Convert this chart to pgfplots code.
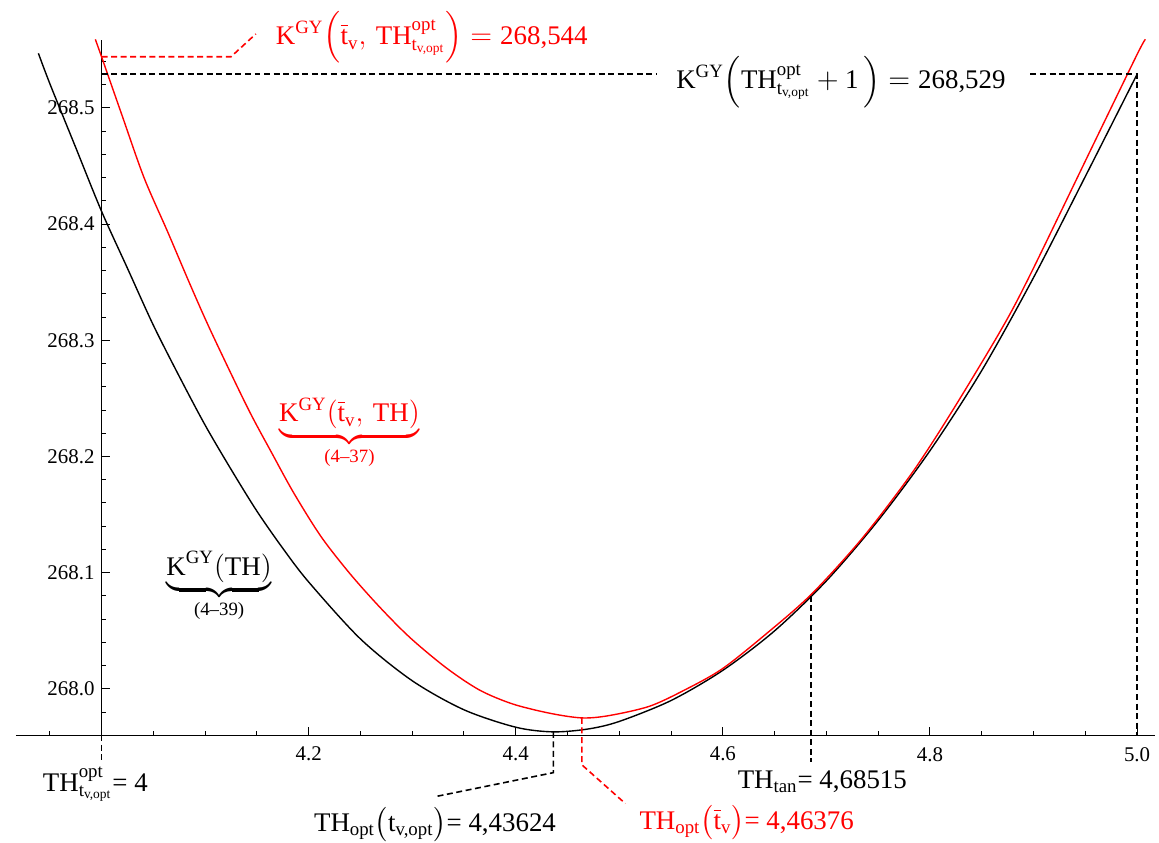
\documentclass[border=0pt]{standalone}
\usepackage{fontspec}
\setmainfont{Liberation Serif}
\usepackage{amsmath}
\usepackage{pgfplots}
\pgfplotsset{compat=1.18}
\begin{document}
\newcommand{\lab}{\fontsize{13.5}{16}\selectfont}
\begin{tikzpicture}
\begin{axis}[
  at={(0pt,0pt)}, anchor=south west,
  scale only axis, width=572pt, height=349.1pt,
  xmin=3.91731, xmax=5.01731, ymin=267.9602, ymax=268.5585,
  axis x line=bottom, axis y line=left,
  axis y line shift=-43.0pt,
  axis line style={-, line width=0.6pt, black},
  xtick={4.2,4.4,4.6,4.8,5.0},
  xticklabels={4.2,4.4,4.6,4.8,5.0},
  minor xtick={3.95,4.05,4.1,4.15,4.25,4.3,4.35,4.45,4.5,4.55,4.65,4.7,4.75,4.85,4.9,4.95},
  ytick={268.0,268.1,268.2,268.3,268.4,268.5},
  yticklabels={268.0,268.1,268.2,268.3,268.4,268.5},
  minor ytick={267.98,268.02,268.04,268.06,268.08,268.12,268.14,268.16,268.18,268.22,268.24,268.26,268.28,268.32,268.34,268.36,268.38,268.42,268.44,268.46,268.48,268.52,268.54},
  tick align=inside,
  major tick length=4pt, minor tick length=2.3pt,
  every tick/.style={black, line width=0.5pt},
  ticklabel style={font=\fontsize{10.5}{12}\selectfont},
  xticklabel style={yshift=-2.5pt},
  clip=false,
]
% black: K^GY(TH)  (4-39)
\addplot[black, line width=0.7pt, smooth] coordinates {
(3.939,268.547) (3.950,268.521) (3.975,268.466) (4.000,268.411) (4.025,268.362)
(4.050,268.313) (4.075,268.269) (4.100,268.227) (4.125,268.189) (4.150,268.153)
(4.175,268.121) (4.200,268.092) (4.250,268.043) (4.300,268.007) (4.350,267.982)
(4.400,267.967) (4.436,267.963) (4.470,267.9655) (4.500,267.972) (4.550,267.990) (4.600,268.016)
(4.650,268.050) (4.700,268.093) (4.750,268.145) (4.800,268.205) (4.850,268.274)
(4.900,268.354) (4.950,268.441) (5.000,268.529)
};
% red: K^GY(t_v, TH)  (4-37)
\addplot[red, line width=0.7pt, smooth] coordinates {
(3.994,268.559) (4.000,268.544) (4.020,268.493) (4.041,268.440) (4.064,268.393)
(4.086,268.347) (4.106,268.307) (4.141,268.242) (4.165,268.202) (4.186,268.168)
(4.212,268.131) (4.240,268.099) (4.269,268.070) (4.298,268.044) (4.333,268.018)
(4.365,267.999) (4.397,267.987) (4.433,267.979) (4.464,267.975) (4.490,267.977)
(4.529,267.985) (4.563,267.999) (4.599,268.017) (4.640,268.046) (4.685,268.081)
(4.734,268.129) (4.782,268.185) (4.820,268.237) (4.868,268.308) (4.896,268.355)
(4.958,268.469) (5.000,268.546) (5.008,268.559)
};
% annotations
\tikzset{dsh/.style={dash pattern=on 3pt off 1.8pt, line width=0.8pt}}
\draw[dsh, red] (axis cs:4.0,268.544) -- (axis cs:4.125,268.544) -- (axis cs:4.149,268.5637);
\node[red, anchor=west, inner sep=0pt] at (axis cs:4.168,268.5605) {\lab $\text{K}^{\text{GY}}\Bigl(\overline{\text{t}}_{\text{v}},\,\text{TH}^{\text{opt}}_{\text{t}_{\text{v,opt}}}\Bigr) = \text{268,544}$};
\draw[dsh, black] (axis cs:4.0,268.529) -- (axis cs:4.5365,268.529);
\draw[dsh, black] (axis cs:4.897,268.529) -- (axis cs:5.0,268.529) -- (axis cs:5.0,267.9602);
\node[black, inner sep=0pt] at (axis cs:4.714,268.5225) {\lab $\text{K}^{\text{GY}}\Bigl(\text{TH}^{\text{opt}}_{\text{t}_{\text{v,opt}}} + \text{1}\,\Bigr) = \text{268,529}$};
\draw[dsh, black] (axis cs:4.0,267.9602) -- (axis cs:4.0,267.9373);
\node[black, inner sep=0pt] at (axis cs:3.994,267.918) {\lab TH$^{\text{opt}}_{\text{t}_{\text{v,opt}}}$= 4};
\draw[dsh, black] (axis cs:4.68515,268.080) -- (axis cs:4.68515,267.9373);
\node[black, inner sep=0pt] at (axis cs:4.696,267.920) {\lab TH$_{\text{tan}}$= 4,68515};
\draw[dsh, black] (axis cs:4.43624,267.963) -- (axis cs:4.43624,267.9279) -- (axis cs:4.323,267.9074);
\node[black, inner sep=0pt] at (axis cs:4.322,267.8834) {\lab TH$_{\text{opt}}\bigl(\text{t}_{\text{v,opt}}\bigr)$= 4,43624};
\draw[dsh, red] (axis cs:4.46376,267.975) -- (axis cs:4.46376,267.9347) -- (axis cs:4.5058,267.9013);
\node[red, inner sep=0pt] at (axis cs:4.623,267.885) {\lab TH$_{\text{opt}}\bigl(\overline{\text{t}}_{\text{v}}\bigr)$= 4,46376};
\node[red, inner sep=0pt] at (axis cs:4.2394,268.2199) {\lab $\underbrace{\text{K}^{\text{GY}}(\overline{\text{t}}_{\text{v}},\,\text{TH})}_{\text{(4–37)}}$};
\node[black, inner sep=0pt] at (axis cs:4.1135,268.0881) {\lab $\underbrace{\text{K}^{\text{GY}}(\text{TH})}_{\text{(4–39)}}$};
\end{axis}
\pgfresetboundingbox
\useasboundingbox (-5.5pt,-53.85pt) rectangle (574pt,369.15pt);
\end{tikzpicture}
\end{document}
